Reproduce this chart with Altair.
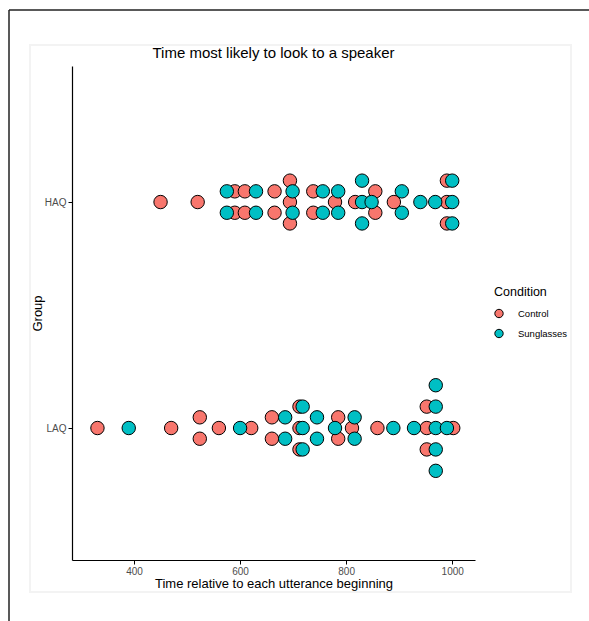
import altair as alt
import pandas as pd

# ---- data ----
groups = ["HAQ", "LAQ"]
conditions = ["Control", "Sunglasses"]
haq_control = [450, 520, 590, 590, 609, 609, 665, 665, 694, 694, 694, 738, 738,
               779, 817, 855, 855, 890, 990, 990, 990]
haq_sunglasses = [575, 575, 630, 630, 699, 699, 756, 756, 785, 785, 830, 830, 830,
                  848, 905, 905, 940, 968, 1000, 1000, 1000]
laq_control = [331, 470, 524, 524, 560, 621, 660, 660, 712, 712, 712, 785, 785,
               811, 859, 952, 952, 952, 1002]
laq_sunglasses = [390, 600, 685, 685, 718, 718, 718, 745, 745, 779, 816, 816,
                  889, 928, 969, 969, 969, 969, 969, 990]
x_ticks = [400, 600, 800, 1000]
title_text = ["Time most likely to look to a speaker"]

series = {
    ("HAQ", "Control"): haq_control,
    ("HAQ", "Sunglasses"): haq_sunglasses,
    ("LAQ", "Control"): laq_control,
    ("LAQ", "Sunglasses"): laq_sunglasses,
}

rows = []
for (g, c), vals in series.items():
    for v in vals:
        rows.append({"Group": g, "Condition": c, "Time": v})
df = pd.DataFrame(rows)

# centred dot-plot stacking (like geom_dotplot stackdir="center")
STACK = 0.0947
base = {"HAQ": 2, "LAQ": 1}
df["idx"] = df.groupby(["Group", "Condition", "Time"]).cumcount()
df["n"] = df.groupby(["Group", "Condition", "Time"])["Time"].transform("count")
df["ypos"] = df["Group"].map(base) + (df["idx"] - (df["n"] - 1) / 2) * STACK
df["order"] = df["Condition"].map({"Control": 0, "Sunglasses": 1})

FONT = "Liberation Sans"

points = alt.Chart(df).mark_point(
    shape="circle", filled=True, size=180, stroke="black", strokeWidth=1, opacity=1
).encode(
    x=alt.X("Time:Q",
            scale=alt.Scale(domain=[283, 1043], nice=False, zero=False),
            axis=alt.Axis(values=x_ticks, format="d",
                          title="Time relative to each utterance beginning",
                          grid=False, domainColor="black", domainWidth=1.2,
                          tickColor="black", tickSize=4, labelColor="#4d4d4d",
                          labelFontSize=10, labelPadding=2, titleFontSize=13,
                          titleFontWeight="normal", titleColor="black", titlePadding=1,
                          labelFont=FONT, titleFont=FONT)),
    y=alt.Y("ypos:Q",
            scale=alt.Scale(domain=[0.416, 2.602], nice=False, zero=False),
            axis=alt.Axis(values=[1, 2], labelExpr="datum.value == 2 ? 'HAQ' : 'LAQ'",
                          title="Group", grid=False, domainColor="black", domainWidth=1.2,
                          tickColor="black", tickSize=4, labelColor="#4d4d4d",
                          labelFontSize=10, labelPadding=2, titleFontSize=13,
                          titleFontWeight="normal", titleColor="black",
                          titleX=-35, titleY=247, titleAngle=270, titleAlign="center",
                          titleBaseline="middle",
                          labelFont=FONT, titleFont=FONT)),
    fill=alt.Fill("Condition:N",
                  scale=alt.Scale(domain=conditions, range=["#F8766D", "#00BFC4"]),
                  legend=alt.Legend(title="Condition", orient="none", legendX=422,
                                    legendY=220, titleFontSize=12.5, titleFontWeight="normal",
                                    titleColor="black", labelFontSize=9.5, labelColor="black",
                                    symbolSize=70, symbolStrokeColor="black",
                                    symbolStrokeWidth=1, symbolType="circle",
                                    rowPadding=6, titlePadding=10, labelOffset=14,
                                    titleFont=FONT, labelFont=FONT)),
    order=alt.Order("order:Q"),
)

deco = pd.DataFrame({"k": [0]})
frame_left = alt.Chart(deco).mark_rule(color="#222222", strokeWidth=1.5).encode(
    x=alt.value(-63), y=alt.value(-56), y2=alt.value(560))
frame_top = alt.Chart(deco).mark_rule(color="#222222", strokeWidth=1.5).encode(
    y=alt.value(-56), x=alt.value(-63), x2=alt.value(520))
faint_box = alt.Chart(deco).mark_rect(filled=False, stroke="#f3f3f3", strokeWidth=2).encode(
    x=alt.value(-42), x2=alt.value(499), y=alt.value(-21), y2=alt.value(526))

title = alt.Chart(pd.DataFrame({"t": title_text})).mark_text(
    fontSize=15, font=FONT, color="black", align="center", baseline="middle"
).encode(text="t:N", x=alt.value(201.5), y=alt.value(-13))

chart = alt.layer(faint_box, frame_left, frame_top, title, points).properties(
    width=403, height=494,
    autosize=alt.AutoSizeParams(type="none"),
    padding={"left": 72, "top": 66, "right": 114, "bottom": 61},
    background="white",
).configure_view(stroke=None)

chart.save("out.html", embed_options={"renderer": "svg", "actions": False})
